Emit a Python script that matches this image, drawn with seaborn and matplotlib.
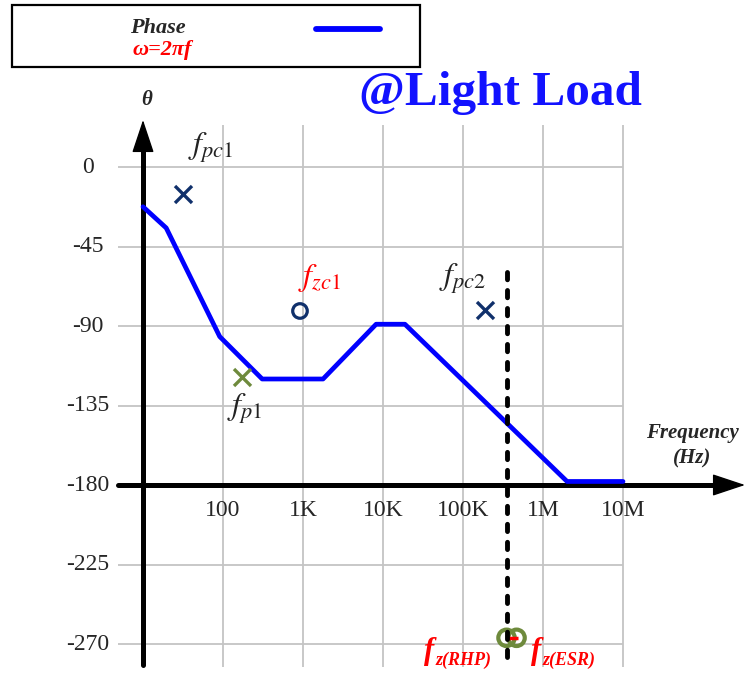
import numpy as np
import pandas as pd
import matplotlib
matplotlib.use("Agg")
import matplotlib.pyplot as plt
from matplotlib.patches import Rectangle
from matplotlib.lines import Line2D
import seaborn as sns

# Bode phase asymptote at light load
freq_hz = [10, 19.5, 91, 309, 1780, 8200, 18800, 2.0e6, 1.0e7]
phase_deg = [-22.5, -34.5, -96, -120, -120, -89, -89, -178, -178]

# Compensator / power-stage poles and zeros
pole_navy_f = [31.6, 1.88e5]
pole_navy_ph = [-15, -81]
pole_green_f = [173]
pole_green_ph = [-119]
zero_navy_f = [917]
zero_navy_ph = [-81.5]
zero_pair_f = [3.5e5, 4.67e5]
zero_pair_ph = [-266.5, -266.5]
rhp_line_f = 3.55e5
rhp_line_ph = [-59.5, -282]

x_ticks = [100, 1e3, 1e4, 1e5, 1e6, 1e7]
x_tick_labels = ["100", "1K", "10K", "100K", "1M", "10M"]
y_ticks = [0, -45, -90, -135, -180, -225, -270]

sns.set_style("white")
plt.rcParams["font.family"] = ["Liberation Serif", "DejaVu Serif"]
plt.rcParams["mathtext.fontset"] = "stix"

NAVY = "#10306b"
OLIVE = "#6e8a3c"
BLUE = "#0000ff"
RED = "#ff0000"

fig = plt.figure(figsize=(7.49, 6.77), dpi=100)
ax = fig.add_axes([0, 0, 1, 1])
ax.set_xscale("log")
px_dec = 80.0
px_deg = 477.0 / 270.0
ax.set_xlim(10 ** (1 - 143 / px_dec), 10 ** (1 + 606 / px_dec))
ax.set_ylim(-(677 - 167) / px_deg, 167 / px_deg)
ax.axis("off")

grid_kw = dict(color="#c4c4c4", lw=1.3, zorder=1)
ax.vlines(x_ticks, -283, 23.8, **grid_kw)
ax.hlines(y_ticks, 10 ** 0.6875, 1e7, **grid_kw)

# axes with arrow heads
ax.plot([10, 10], [-282, 12], color="black", lw=3.6, solid_capstyle="round", zorder=3)
ax.plot([10 ** 0.6875, 10 ** 8.2], [-180, -180], color="black", lw=3.6,
        solid_capstyle="round", zorder=3)
head = dict(arrowstyle="-|>,head_length=2.1,head_width=0.7", color="black", lw=1,
            mutation_scale=10, shrinkA=0, shrinkB=0)
ax.annotate("", xy=(10, 26.6), xytext=(10, 5), arrowprops=head, zorder=4)
ax.annotate("", xy=(10 ** 8.525, -180), xytext=(10 ** 8.0, -180), arrowprops=head, zorder=4)

# tick labels
for yv in y_ticks:
    ax.text(10 ** (1 - 55 / px_dec), yv, f"{yv}", ha="center", va="center", fontsize=17)
for xv, lab in zip(x_ticks, x_tick_labels):
    ax.text(xv, -194.2, lab, ha="center", va="center", fontsize=17)

# phase curve
df = pd.DataFrame({"f": freq_hz, "phase": phase_deg})
sns.lineplot(data=df, x="f", y="phase", color=BLUE, lw=3.4, ax=ax, zorder=5,
             sort=False, estimator=None)

# RHP zero frequency marker line
ax.plot([rhp_line_f, rhp_line_f], rhp_line_ph, color="black", lw=3.5,
        linestyle=(0, (1.5, 2.2)), dash_capstyle="round", zorder=8)

# poles and zeros
sns.scatterplot(x=pole_navy_f, y=pole_navy_ph, marker="x", s=150, color=NAVY,
                linewidth=2.4, ax=ax, zorder=6)
sns.scatterplot(x=pole_green_f, y=pole_green_ph, marker="x", s=150, color=OLIVE,
                linewidth=2.4, ax=ax, zorder=6)
ax.scatter(zero_navy_f, zero_navy_ph, marker="o", s=110, facecolors="none",
           edgecolors=NAVY, linewidths=2.3, zorder=6)
ax.scatter(zero_pair_f, zero_pair_ph, marker="o", s=140, facecolors="none",
           edgecolors=OLIVE, linewidths=3.0, zorder=6)
ax.scatter([np.sqrt(zero_pair_f[0] * zero_pair_f[1])], [zero_pair_ph[0]], marker="_",
           s=70, color=RED, linewidths=2.5, zorder=7)

# pole / zero labels
lab_kw = dict(fontsize=23, ha="center", va="center")
ax.text(10 ** (1 + 68 / px_dec), (167 - 148) / px_deg, r"$f_{pc1}$",
        color="#222222", **lab_kw)
ax.text(10 ** (1 + 177 / px_dec), -(278 - 167) / px_deg, r"$f_{zc1}$",
        color=RED, **lab_kw)
ax.text(10 ** (1 + 320 / px_dec), -(279 - 167) / px_deg, r"$f_{pc2}$",
        color="#222222", **lab_kw)
ax.text(10 ** (1 + 102 / px_dec), -(409 - 167) / px_deg, r"$f_{p1}$",
        color="#222222", **lab_kw)

bi = dict(fontweight="bold", fontstyle="italic", color=RED)
for x_px, sub in [(424, "z(RHP)"), (531, "z(ESR)")]:
    xf = 10 ** (1 + (x_px - 143) / px_dec)
    yb = -(659 - 167) / px_deg
    ax.text(xf, yb, "f", fontsize=22, ha="left", va="baseline", **bi)
    ax.annotate(sub, xy=(xf, yb), xytext=(8.5, -4), textcoords="offset points",
                fontsize=13, ha="left", va="baseline", **bi)

# axis titles
ax.text(10 ** (1 + 4 / px_dec), (167 - 100) / px_deg, "θ", fontsize=15,
        ha="center", va="center", fontweight="bold", fontstyle="italic")
ax.text(10 ** (1 + 549 / px_dec), -(433 - 167) / px_deg, "Frequency", fontsize=15,
        ha="center", va="center", fontweight="bold", fontstyle="italic")
ax.text(10 ** (1 + 549 / px_dec), -(458 - 167) / px_deg, "(Hz)", fontsize=15,
        ha="center", va="center", fontweight="bold", fontstyle="italic")

# title
fig.text(500 / 749, 1 - 105 / 677, "@Light Load", fontsize=35.5, fontweight="bold",
         color="#1212ff", ha="center", va="baseline")

# legend box
fig.patches.append(Rectangle((12 / 749, 1 - 67 / 677), 408 / 749, 62 / 677,
                             transform=fig.transFigure, fill=True, facecolor="white",
                             edgecolor="black", lw=1.6, zorder=10))
fig.text(158 / 749, 1 - 28 / 677, "Phase", fontsize=16, fontweight="bold",
         fontstyle="italic", ha="center", va="center", zorder=11)
fig.text(162 / 749, 1 - 50 / 677, "ω=2πf", fontsize=16, fontweight="bold",
         fontstyle="italic", color=RED, ha="center", va="center", zorder=11)
fig.lines.append(Line2D([316 / 749, 380 / 749], [1 - 29 / 677, 1 - 29 / 677],
                        transform=fig.transFigure, color=BLUE, lw=4.2,
                        solid_capstyle="round", zorder=11))

fig.savefig("out.png", dpi=100)
